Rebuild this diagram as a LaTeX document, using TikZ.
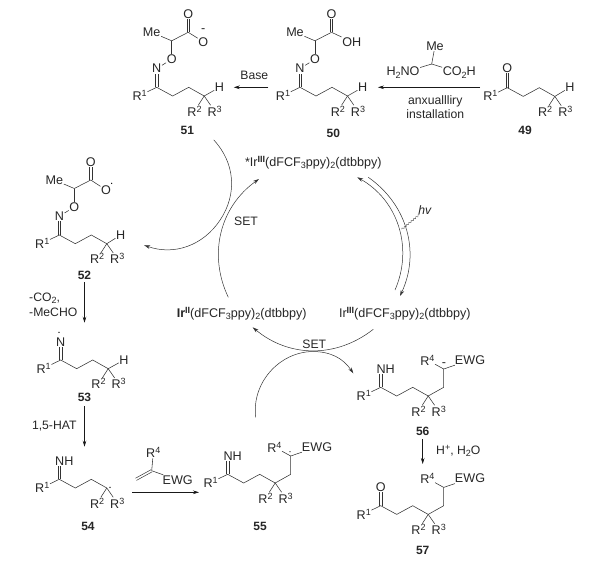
\documentclass[tikz,border=0pt]{standalone}
\usepackage{xcolor}
\usepackage{fontspec}
\setmainfont{Liberation Sans}
\usepackage{tikz}
\usetikzlibrary{arrows.meta,decorations.pathmorphing}
\newcommand{\uptext}[1]{\raisebox{4pt}{\fontsize{9}{9}\selectfont #1}}
\newcommand{\downtext}[1]{\raisebox{-2.2pt}{\fontsize{9}{9}\selectfont #1}}
\tikzset{
  atomlabel/.style={inner sep=0.5pt, text=black!85, font=\fontsize{12.6}{13}\selectfont},
  textlabel/.style={inner sep=0pt, text=black!85, align=center, font=\fontsize{12.2}{14}\selectfont},
  cpdlabel/.style={inner sep=0pt, text=black!85, font=\fontsize{12}{13}\selectfont\bfseries},
  raddot/.style={circle, fill=black, inner sep=0pt, minimum size=1.4pt},
  bond/.style={draw=black!80, line width=0.55pt},
  dbond/.style={
    preaction={draw=black!80, line width=0.5pt, transform canvas={xshift=1.2pt}},
    postaction={draw=black!80, line width=0.5pt, transform canvas={xshift=-1.2pt}}},
  dbondslant/.style={
    preaction={draw=black!80, line width=0.5pt, transform canvas={xshift=0.55pt,yshift=-1.05pt}},
    postaction={draw=black!80, line width=0.5pt, transform canvas={xshift=-0.55pt,yshift=1.05pt}}},
  reactarrow/.style={-{Stealth[length=6pt,width=3.6pt]}, draw=black!90, line width=0.6pt},
  cyclearrow/.style={-{Stealth[length=6pt,width=3.6pt]}, draw=black!80, line width=0.5pt},
  cycleline/.style={draw=black!80, line width=0.5pt},
  % R1 and the chain up to the carbon with R2, R3
  alkylchain/.pic={
    \coordinate (-c) at (0,0);
    \coordinate (-a) at (16,8.7);
    \coordinate (-b) at (32,0);
    \coordinate (-d) at (47.5,8.7);
    \node[atomlabel] (-rone) at (-17,8.2) {R\uptext{1}};
    \node[atomlabel] (-rtwo) at (37.8,23.8) {R\uptext{2}};
    \node[atomlabel] (-rthree) at (58,23.8) {R\uptext{3}};
    \draw[bond] (-rone) -- (-c) -- (-a) -- (-b) -- (-d);
    \draw[bond] (-d) -- (-rtwo);
    \draw[bond] (-d) -- (-rthree);
  },
  % oxime ether with the acid arm, open at the last oxygen
  oximearm/.pic={
    \coordinate (-c) at (0,0);
    \coordinate (-ch) at (15,-46.5);
    \coordinate (-co) at (31.5,-55);
    \node[atomlabel] (-n) at (0,-18.8) {N};
    \node[atomlabel] (-o) at (15,-28) {O};
    \node[atomlabel] (-me) at (-5,-55) {Me};
    \node[atomlabel] (-ox) at (31.5,-73) {O};
    \path[dbond] (-c) -- (-n);
    \draw[bond] (-n) -- (-o);
    \draw[bond] (-o) -- (-ch);
    \draw[bond] (-me) -- (-ch) -- (-co);
    \path[dbond] (-co) -- (-ox);
  },
  % side arm with R4 and EWG
  ewgarm/.pic={
    \coordinate (-d) at (47.5,8.7);
    \coordinate (-e) at (63,0);
    \coordinate (-f) at (63,-18.3);
    \node[atomlabel] (-rfour) at (46.6,-27.3) {R\uptext{4}};
    \node[atomlabel] (-ewg) at (89.3,-27.3) {EWG};
    \draw[bond] (-d) -- (-e) -- (-f);
    \draw[bond] (-f) -- (-rfour);
    \draw[bond] (-f) -- (-ewg);
  },
}

\begin{document}
\begin{tikzpicture}[x=1pt,y=-1pt]
  \useasboundingbox (0,0) rectangle (597,562);

  % Compound 49
  \pic (p49) at (507.3,87.7) {alkylchain};
  \node[atomlabel] (o49) at (507.3,68.3) {O};
  \node[atomlabel] (h49) at (570,87.3) {H};
  \node[cpdlabel] (lab49) at (525,130.7) {49};
  \path[dbond] (p49-c) -- (o49);
  \draw[bond] (p49-d) -- (h49);

  % Compound 50
  \pic (p50) at (300,87.3) {alkylchain};
  \pic (q50) at (300,87.3) {oximearm};
  \node[atomlabel] (oh50) at (351.7,41.7) {OH};
  \node[atomlabel] (h50) at (362.7,87.3) {H};
  \node[cpdlabel] (lab50) at (333.3,133.3) {50};
  \draw[bond] (q50-co) -- (oh50);
  \draw[bond] (p50-d) -- (h50);

  % Compound 51
  \pic (p51) at (156.7,87.3) {alkylchain};
  \pic (q51) at (156.7,87.3) {oximearm};
  \node[atomlabel] (o51) at (203.3,41.7) {O};
  \node[atomlabel] (neg51) at (203.3,31) {-};
  \node[atomlabel] (h51) at (219.5,87.3) {H};
  \node[cpdlabel] (lab51) at (187.3,130.7) {51};
  \draw[bond] (q51-co) -- (o51);
  \draw[bond] (p51-d) -- (h51);

  % Compound 52
  \pic (p52) at (59.3,235) {alkylchain};
  \pic (q52) at (59.3,235) {oximearm};
  \node[atomlabel] (o52) at (106,190) {O};
  \node[raddot] (dot52) at (111.7,183.3) {};
  \node[atomlabel] (h52) at (120.7,235) {H};
  \node[cpdlabel] (lab52) at (84.5,275) {52};
  \draw[bond] (q52-co) -- (o52);
  \draw[bond] (p52-d) -- (h52);

  % Compound 53
  \pic (p53) at (60.7,360) {alkylchain};
  \node[atomlabel] (n53) at (60.7,341.7) {N};
  \node[raddot] (dot53) at (59,332.3) {};
  \node[atomlabel] (h53) at (124,360) {H};
  \node[cpdlabel] (lab53) at (84.5,397.7) {53};
  \path[dbond] (p53-c) -- (n53);
  \draw[bond] (p53-d) -- (h53);

  % Compound 54 and the alkene
  \pic (p54) at (59.3,479.3) {alkylchain};
  \node[atomlabel] (nh54) at (64.3,460.7) {NH};
  \node[raddot] (dot54) at (110,487.3) {};
  \node[cpdlabel] (lab54) at (88,526.7) {54};
  \path[dbond] (p54-c) -- (p54-c |- nh54.south);
  \coordinate (alkc) at (151.7,470.7);
  \coordinate (alkch) at (136,479.3);
  \node[atomlabel] (alkr) at (153.3,452.7) {R\uptext{4}};
  \node[atomlabel] (alkewg) at (177.7,480) {EWG};
  \draw[bond] (alkc) -- (alkr);
  \draw[bond] (alkc) -- (alkewg);
  \path[dbondslant] (alkc) -- (alkch);

  % Compound 55
  \pic (p55) at (227.7,474.3) {alkylchain};
  \pic (q55) at (227.7,474.3) {ewgarm};
  \node[atomlabel] (nh55) at (232.7,455.7) {NH};
  \node[raddot] (dot55) at (290,451.7) {};
  \node[cpdlabel] (lab55) at (260,526.7) {55};
  \path[dbond] (p55-c) -- (p55-c |- nh55.south);

  % Compound 56
  \pic (p56) at (380.7,387.3) {alkylchain};
  \pic (q56) at (380.7,387.3) {ewgarm};
  \node[atomlabel] (nh56) at (385.7,369) {NH};
  \node[atomlabel] (neg56) at (444,364.3) {-};
  \node[cpdlabel] (lab56) at (422.7,431.7) {56};
  \path[dbond] (p56-c) -- (p56-c |- nh56.south);

  % Compound 57
  \pic (p57) at (380.7,505.7) {alkylchain};
  \pic (q57) at (380.7,505.7) {ewgarm};
  \node[atomlabel] (o57) at (380.7,487.3) {O};
  \node[cpdlabel] (lab57) at (422.7,550) {57};
  \path[dbond] (p57-c) -- (o57);

  % Auxiliary over the arrow 49 to 50
  \coordinate (auxc) at (431.7,64);
  \node[atomlabel] (auxme) at (435,46) {Me};
  \node[atomlabel] (auxn) at (403,72.7) {H\downtext{2}NO};
  \node[atomlabel] (auxco) at (459.3,72.7) {CO\downtext{2}H};
  \draw[bond] (auxc) -- (auxme);
  \draw[bond] (auxc) -- (auxn);
  \draw[bond] (auxc) -- (auxco);

  % Text on the arrows
  \node[textlabel] (aux) at (435.3,107) {anxuallliry\\installation};
  \node[textlabel] (base) at (254.3,75.7) {Base};
  \node[textlabel, anchor=west] (loss1) at (29,298.3) {-CO\downtext{2},};
  \node[textlabel, anchor=west] (loss2) at (29,312) {-MeCHO};
  \node[textlabel] (hat) at (54.3,425.7) {1,5-HAT};
  \node[textlabel] (acid) at (458.3,451) {H\uptext{+}, H\downtext{2}O};

  % Arrows between the compounds
  \coordinate (arr49) at (480,87.3);
  \coordinate (arr50) at (268.3,87.3);
  \coordinate (end52) at (84.5,322.7);
  \coordinate (end53) at (84.5,446.7);
  \coordinate (arr54) at (132.3,492.3);
  \coordinate (end54) at (199,492.3);
  \coordinate (end56) at (422.7,464);
  \draw[reactarrow, shorten >=10pt] (arr49) -- (h50);
  \draw[reactarrow, shorten >=9pt] (arr50) -- (h51);
  \draw[reactarrow, shorten <=3pt] (lab52) -- (end52);
  \draw[reactarrow, shorten <=4pt] (lab53) -- (end53);
  \draw[reactarrow] (arr54) -- (end54);
  \draw[reactarrow, shorten <=3pt] (lab56) -- (end56);

  % Iridium species
  \node[atomlabel] (irstar) at (313.3,162.3) {*Ir\uptext{\textbf{III}}(dFCF\downtext{3}ppy)\downtext{2}(dtbbpy)};
  \node[atomlabel] (irtwo) at (241.7,313.3) {\textbf{Ir}\uptext{\textbf{II}}(dFCF\downtext{3}ppy)\downtext{2}(dtbbpy)};
  \node[atomlabel, anchor=west] (irthree) at (338.3,313.3) {Ir\uptext{\textbf{III}}(dFCF\downtext{3}ppy)\downtext{2}(dtbbpy)};
  \node[textlabel] (setl) at (246,221.7) {SET};
  \node[textlabel] (setb) at (314.3,344) {SET};
  \node[textlabel] (hv) at (425,210) {\textit{hv}};

  % Cycle arcs
  \coordinate (aleft) at (228.3,297.3);
  \coordinate (atop) at (259,179);
  \coordinate (bright) at (373.3,329.3);
  \coordinate (bleft) at (252.7,327.3);
  \coordinate (ctop) at (368.3,177.3);
  \coordinate (cbot) at (400,296);
  \coordinate (dbot) at (395,290);
  \coordinate (dtop) at (357.3,177.3);
  \coordinate (waveb) at (401.7,229.3);
  \draw[cyclearrow] (aleft) to[bend left=40] (atop);
  \draw[cyclearrow] (bright) to[bend left=39] (bleft);
  \draw[cyclearrow] (ctop) to[bend left=40] (cbot);
  \draw[cyclearrow] (dbot) to[bend right=42] (dtop);
  \draw[draw=black!70, line width=0.4pt, decorate, decoration={snake,amplitude=0.8pt,segment length=3pt}] (waveb) -- (hv);

  % Arcs that cross the cycle
  \coordinate (ltop) at (213.7,139.8);
  \coordinate (lmid) at (220.3,219.8);
  \coordinate (lend) at (144.2,245.2);
  \coordinate (rstart) at (255.7,417.3);
  \coordinate (rmid) at (312.5,351.5);
  \coordinate (rend) at (353.3,373.3);
  \draw[cycleline] (ltop) to[bend left=38] (lmid);
  \draw[cyclearrow] (lmid) to[bend left=38] (lend);
  \draw[cycleline] (rstart) to[bend left=48] (rmid);
  \draw[cyclearrow] (rmid) to[bend left=28] (rend);
\end{tikzpicture}
\end{document}
